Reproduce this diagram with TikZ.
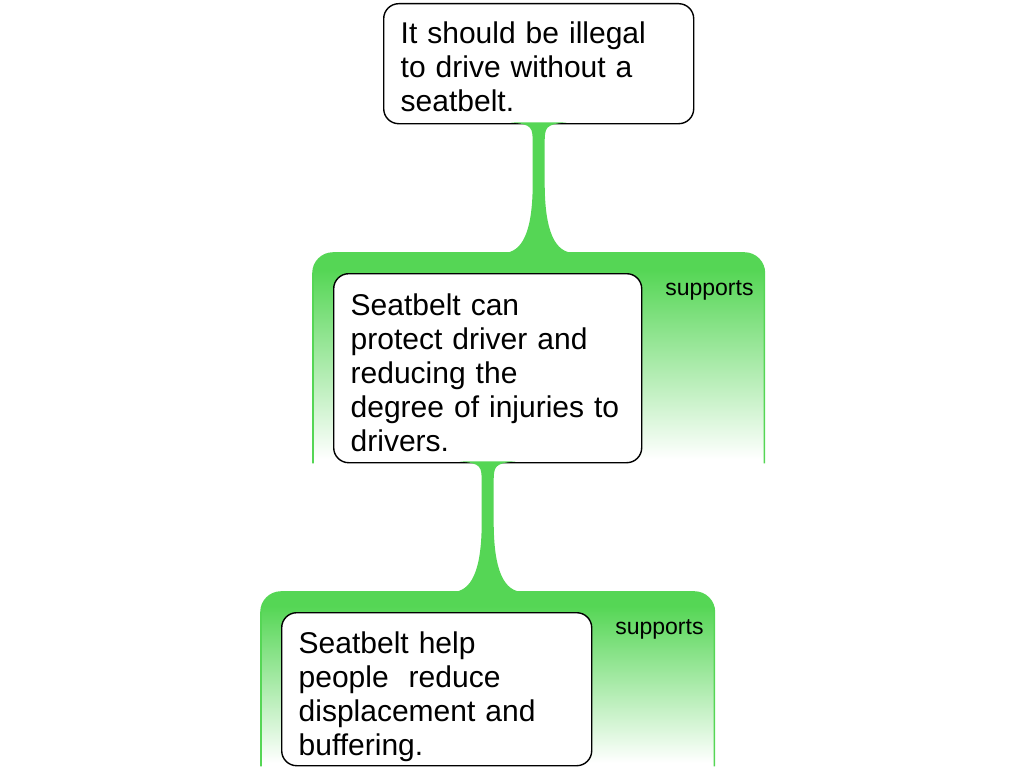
\documentclass[tikz,border=0pt]{standalone}
\usepackage{fontspec}
\setmainfont{Liberation Sans}
\usetikzlibrary{calc}
\usetikzlibrary{backgrounds}

\definecolor{supgreen}{RGB}{85,214,85}
% path box is mapped onto 25bp..75bp of the shading
\pgfdeclareverticalshading{supfade}{100bp}{color(0bp)=(white); color(26bp)=(white); color(71bp)=(supgreen); color(100bp)=(supgreen)}
\newcommand\firstline[1]{\rule{0pt}{#1}}

\tikzset{
 argbox/.style={draw=black, line width=1.4pt, fill=white, rounded corners=15pt, anchor=north west,
   inner xsep=17pt, inner ysep=0pt, align=left, font=\fontsize{30}{34}\selectfont},
 suppanel/.style={draw=supgreen, line width=1.6pt, shading=supfade, rounded corners=20pt},
 suplabel/.style={font=\fontsize{23}{26}\selectfont, inner sep=0pt},
}

\begin{document}
\begin{tikzpicture}[x=1pt, y=-1pt]
\useasboundingbox (0,0) rectangle (1024,768);
\node[argbox, text width=276pt, minimum height=120pt] (claim) at (383,3)
  {\firstline{28pt}It should be illegal\\to drive without a\\seatbelt.};
\node[argbox, text width=274pt, minimum height=189pt] (reason) at (333,273)
  {\firstline{30pt}Seatbelt can\\protect driver and\\reducing the\\degree of injuries to\\drivers.};
\node[argbox, text width=276pt, minimum height=153pt] (evidence) at (281,612)
  {\firstline{36pt}Seatbelt help\\people\ \ reduce\\displacement and\\buffering.};
% support links
\foreach \p/\c in {claim/reason, reason/evidence} {
 \coordinate (a) at (\p.south);
 \coordinate (b0) at (a |- \c.north);
 \coordinate (b) at ($(b0)+(0,-20)$);
 \begin{scope}[on background layer]
  \shade[suppanel] ($(\c.south west)+(-20,0)$) |- ($(\c.north east)+(122,-20)$) -- ($(\c.south east)+(122,0)$);
 \end{scope}
 \fill[supgreen] ($(a)+(-28,-2)$) .. controls ($(a)+(-6,0)$) and ($(a)+(-6,3)$) .. ($(a)+(-6,20)$)
   -- ($(b)+(-6,-70)$) .. controls ($(b)+(-6,-22)$) and ($(b)+(-16,0)$) .. ($(b)+(-36,0)$)
   -- ($(b)+(36,0)$) .. controls ($(b)+(16,0)$) and ($(b)+(6,-22)$) .. ($(b)+(6,-70)$)
   -- ($(a)+(6,20)$) .. controls ($(a)+(6,3)$) and ($(a)+(6,0)$) .. ($(a)+(28,-2)$) -- cycle;
 \node[suplabel] (\c-sup) at ($(\c.north east)+(67,17)$) {supports};
}
\end{tikzpicture}
\end{document}
